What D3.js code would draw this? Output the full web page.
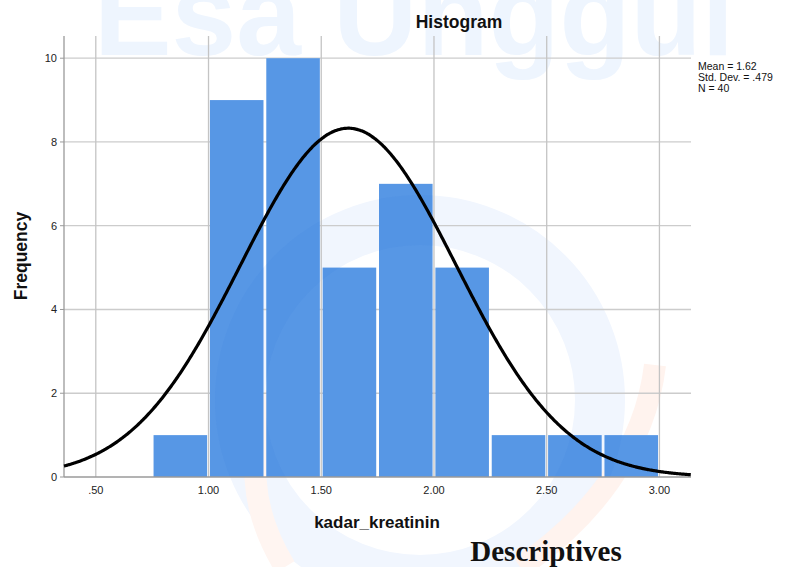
<!DOCTYPE html>
<html>
<head>
<meta charset="utf-8">
<script src="https://d3js.org/d3.v7.min.js"></script>
<style>
  body { margin: 0; background: #fff; }
  text { font-family: "Liberation Sans", Arial, sans-serif; }
</style>
</head>
<body>
<div id="my_dataviz"></div>
<script>
    // histogram data (kadar_kreatinin, bin width .25)
    const binStarts = [0.75, 1.00, 1.25, 1.50, 1.75, 2.00, 2.25, 2.50, 2.75]
    const counts = [1, 9, 10, 5, 7, 5, 1, 1, 1]
    const BIN_WIDTH = 0.25

    // summary stats shown at the right
    const MEAN = 1.62, SD = 0.479, N = 40
    const statLines = ["Mean = 1.62", "Std. Dev. = .479", "N = 40"]

    const xTicks = [0.5, 1.0, 1.5, 2.0, 2.5, 3.0]
    const xTickLabels = [".50", "1.00", "1.50", "2.00", "2.50", "3.00"]
    const yTicks = [0, 2, 4, 6, 8, 10]

    // plot box (note: "top" is taken by window.top, so use other names)
    var W = 785, H = 567
    var plotL = 64, plotR = 691, plotT = 36, plotB = 477

    var svg = d3.select("#my_dataviz").append("svg")
        .attr("width", W)
        .attr("height", H)

    var x = d3.scaleLinear().domain([0.359, 3.14]).range([plotL, plotR])
    var y = d3.scaleLinear().domain([0, 10.53]).range([plotB, plotT])

    // faint watermark text behind everything
    svg.append("text")
        .attr("x", 94).attr("y", 55)
        .attr("textLength", 640)
        .attr("lengthAdjust", "spacingAndGlyphs")
        .style("font-size", "118px")
        .style("font-weight", "bold")
        .attr("fill", "#eef5fe")
        .text("Esa Unggul")

    // faint logo swirl behind the plot
    var logo = svg.append("g")
    logo.append("circle")
        .attr("cx", 420).attr("cy", 400).attr("r", 180)
        .attr("fill", "none")
        .attr("stroke", "#f1f6fe")
        .attr("stroke-width", 50)
    logo.append("path")
        .attr("d", "M655,365 C645,450 590,520 520,567")
        .attr("fill", "none")
        .attr("stroke", "#fff3ee")
        .attr("stroke-width", 22)
    logo.append("path")
        .attr("d", "M285,567 C250,510 245,450 275,395")
        .attr("fill", "none")
        .attr("stroke", "#fff5f1")
        .attr("stroke-width", 22)

    // grid lines
    svg.append("g").selectAll("line")
        .data(yTicks.filter(d => d > 0))
        .enter().append("line")
        .attr("x1", plotL).attr("x2", plotR)
        .attr("y1", d => y(d)).attr("y2", d => y(d))
        .attr("stroke", "#cccccc")
        .attr("stroke-width", 1.3)

    svg.append("g").selectAll("line")
        .data(xTicks)
        .enter().append("line")
        .attr("x1", d => x(d)).attr("x2", d => x(d))
        .attr("y1", plotT).attr("y2", plotB)
        .attr("stroke", "#c4c4c4")
        .attr("stroke-width", 1.3)

    // bars
    svg.append("g").selectAll("rect")
        .data(binStarts)
        .enter().append("rect")
        .attr("x", d => x(d) + 1.4)
        .attr("width", d => x(d + BIN_WIDTH) - x(d) - 2.8)
        .attr("y", (d, i) => y(counts[i]))
        .attr("height", (d, i) => plotB - y(counts[i]))
        .attr("fill", "#5797e5")

    // the logo shows slightly through the bars too
    svg.append("circle")
        .attr("cx", 420).attr("cy", 400).attr("r", 180)
        .attr("fill", "none")
        .attr("stroke", "rgba(40,110,220,0.06)")
        .attr("stroke-width", 50)
        .attr("clip-path", "url(#barsClip)")
    var clip = svg.append("clipPath").attr("id", "barsClip")
    clip.selectAll("rect")
        .data(binStarts)
        .enter().append("rect")
        .attr("x", d => x(d) + 1.4)
        .attr("width", d => x(d + BIN_WIDTH) - x(d) - 2.8)
        .attr("y", (d, i) => y(counts[i]))
        .attr("height", (d, i) => plotB - y(counts[i]))

    // axis lines
    svg.append("line")
        .attr("x1", plotL).attr("x2", plotL)
        .attr("y1", plotT).attr("y2", plotB)
        .attr("stroke", "#9a9a9a").attr("stroke-width", 1.3)
    svg.append("line")
        .attr("x1", plotL).attr("x2", plotR)
        .attr("y1", plotB).attr("y2", plotB)
        .attr("stroke", "#9a9a9a").attr("stroke-width", 1.3)

    // y ticks
    svg.append("g").selectAll("line")
        .data(yTicks)
        .enter().append("line")
        .attr("x1", plotL - 4).attr("x2", plotL)
        .attr("y1", d => y(d)).attr("y2", d => y(d))
        .attr("stroke", "#9a9a9a")

    svg.append("g").selectAll("text")
        .data(yTicks)
        .enter().append("text")
        .attr("x", 57)
        .attr("y", d => y(d))
        .attr("dy", "0.35em")
        .attr("text-anchor", "end")
        .style("font-size", "11px")
        .attr("fill", "#222")
        .text(d => d)

    svg.append("g").selectAll("text")
        .data(xTicks)
        .enter().append("text")
        .attr("x", d => x(d))
        .attr("y", 494)
        .attr("text-anchor", "middle")
        .style("font-size", "11px")
        .attr("fill", "#222")
        .text((d, i) => xTickLabels[i])

    // normal curve scaled to counts
    var curveX = d3.range(0.359, 3.1401, 0.005)
    var line = d3.line()
        .x(d => x(d))
        .y(d => y(N * BIN_WIDTH * Math.exp(-0.5 * Math.pow((d - MEAN) / SD, 2)) / (SD * Math.sqrt(2 * Math.PI))))
        .curve(d3.curveBasis)
    svg.append("path")
        .datum(curveX)
        .attr("d", line)
        .attr("fill", "none")
        .attr("stroke", "#000")
        .attr("stroke-width", 3.2)

    // titles
    svg.append("text")
        .attr("x", 459).attr("y", 28)
        .attr("text-anchor", "middle")
        .style("font-size", "17.5px")
        .style("font-weight", "bold")
        .attr("fill", "#111")
        .text("Histogram")

    svg.append("text")
        .attr("transform", "translate(27,256) rotate(-90)")
        .attr("text-anchor", "middle")
        .style("font-size", "17.5px")
        .style("font-weight", "bold")
        .attr("fill", "#111")
        .text("Frequency")

    svg.append("text")
        .attr("x", 377).attr("y", 528)
        .attr("text-anchor", "middle")
        .style("font-size", "17px")
        .style("font-weight", "bold")
        .attr("fill", "#111")
        .text("kadar_kreatinin")

    svg.append("g").selectAll("text")
        .data(statLines)
        .enter().append("text")
        .attr("x", 698)
        .attr("y", (d, i) => 70 + i * 11)
        .style("font-size", "10.5px")
        .attr("fill", "#111")
        .text(d => d)

    svg.append("text")
        .attr("x", 546).attr("y", 561)
        .attr("text-anchor", "middle")
        .style("font-family", "'Liberation Serif', 'Times New Roman', serif")
        .style("font-size", "29px")
        .style("font-weight", "bold")
        .attr("fill", "#111")
        .text("Descriptives")
</script>
</body>
</html>
